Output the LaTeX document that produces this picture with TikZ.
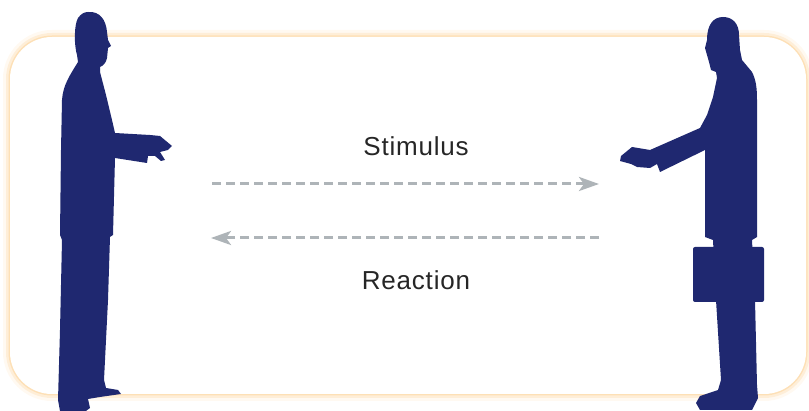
\documentclass[tikz,border=0pt]{standalone}
\usepackage{fontspec}
\setmainfont{Liberation Sans}
\usepackage{xcolor}
\usepackage{tikz}
\definecolor{suitBlue}{RGB}{31, 40, 112}
\definecolor{arrowGray}{RGB}{174, 180, 184}
\definecolor{glowOrange}{RGB}{253, 214, 160}
\usetikzlibrary{arrows.meta, positioning}

\tikzset{
    silhouette/.style={fill=suitBlue, draw=none},
    glowline/.style={draw=glowOrange, rounded corners=42pt},
    flowarrow/.style={
        draw=arrowGray,
        line width=3pt,
        dash pattern=on 9pt off 5pt,
        -{Stealth[length=20pt, width=14pt, inset=5pt]}
    },
    caption/.style={
        font=\fontsize{26}{31}\selectfont\addfontfeatures{LetterSpace=3},
        text=black!85,
        inner sep=0pt,
        anchor=base
    }
}

\begin{document}
\begin{tikzpicture}[x=1pt, y=-1pt]
    \useasboundingbox (0,0) rectangle (809,411);

    % panel with soft glow
    \draw[glowline, line width=14pt, draw opacity=0.15] (10,37) rectangle (806,394);
    \draw[glowline, line width=8pt, draw opacity=0.3] (10,37) rectangle (806,394);
    \draw[glowline, line width=3pt, draw opacity=0.6] (10,37) rectangle (806,394);
    \fill[white, rounded corners=42pt] (10,37) rectangle (806,394);

    % left person
    \fill[silhouette] (88,12) .. controls (100,11) and (106,20) .. (107,32)
        -- (108,40) -- (111,46) -- (108,48) -- (107,58)
        .. controls (106,63) and (103,66) .. (100,67)
        -- (100,72) -- (106,95) -- (112,120) -- (115,133) -- (150,135)
        -- (160,136) -- (172,146) -- (168,150) -- (160,152) -- (165,160)
        -- (161,161) -- (155,156) -- (148,156) -- (147,163) -- (115,158)
        -- (113,235) -- (110,237) -- (108,300) -- (104,380) -- (106,388)
        -- (118,390) -- (121,394) -- (100,397) -- (88,399) -- (90,408)
        -- (86,411) -- (60,411) -- (58,400) -- (60,330) -- (62,240)
        -- (60,235) -- (61,150) -- (62,100)
        .. controls (63,85) and (70,75) .. (78,62)
        -- (77,55) .. controls (74,45) and (74,25) .. (78,18)
        .. controls (81,14) and (84,12) .. (88,12) -- cycle;

    % right person
    \fill[silhouette] (723,17) .. controls (733,17) and (739,24) .. (739,35)
        -- (740,50) -- (742,60) -- (752,72)
        .. controls (756,80) and (757,88) .. (757,100)
        -- (757,237) -- (752,240) -- (755,300) -- (757,385) -- (758,398)
        -- (752,410) -- (700,410) -- (696,403) -- (700,396) -- (718,390)
        -- (721,380) -- (716,300) -- (713,240) -- (705,237) -- (705,150)
        -- (660,172) -- (657,164) -- (650,168) -- (637,167) -- (631,164)
        -- (620,161) -- (621,156) -- (632,147) -- (650,150) -- (700,128)
        -- (707,115) -- (713,97) -- (717,78) -- (716,72) -- (711,70)
        -- (709,62) -- (707,55) -- (705,48) -- (707,40)
        .. controls (707,25) and (713,17) .. (723,17) -- cycle;
    \fill[silhouette, rounded corners=2pt] (693,247) rectangle (764,302);

    % labels and arrows
    \node[caption] (stimulus) at (416,156) {Stimulus};
    \node[caption] (reaction) at (416,290) {Reaction};

    \coordinate (stimStart) at (212,184);
    \coordinate (stimEnd) at (599,184);
    \coordinate (reacStart) at (599,238);
    \coordinate (reacEnd) at (211,238);

    \draw[flowarrow] (stimStart) -- (stimEnd);
    \draw[flowarrow] (reacStart) -- (reacEnd);
\end{tikzpicture}
\end{document}
